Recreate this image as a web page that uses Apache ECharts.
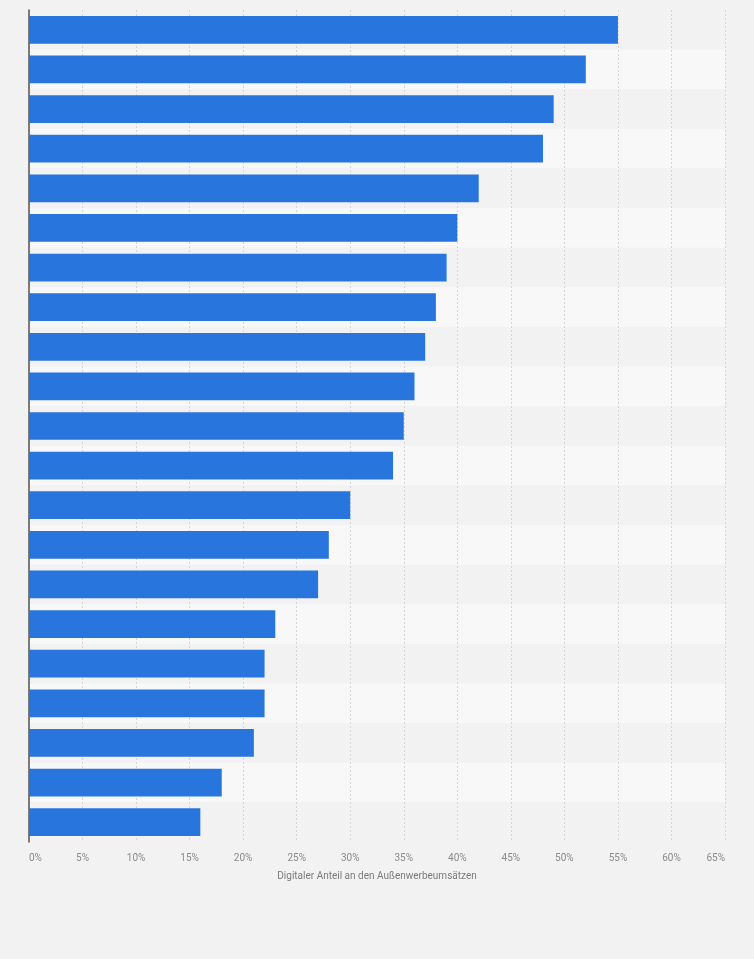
<!DOCTYPE html>
<html>
<head>
<meta charset="utf-8">
<title>Digitaler Anteil an den Außenwerbeumsätzen</title>
<script src="https://cdn.jsdelivr.net/npm/echarts@6/dist/echarts.min.js"></script>
<style>
  html, body { margin: 0; padding: 0; background: #f2f2f2; }
  #chart-container { width: 754px; height: 959px; }
</style>
</head>
<body>
<div id="chart-container"></div>
<script>
var dom = document.getElementById("chart-container");
var myChart = echarts.init(dom, null, { renderer: "canvas" });

// category names are not shown in the picture, so rows are just numbered
const categories = [
  "1", "2", "3", "4", "5", "6", "7", "8", "9", "10", "11",
  "12", "13", "14", "15", "16", "17", "18", "19", "20", "21"
];
const digitalShare = [
  55, 52, 49, 48, 42, 40, 39, 38, 37, 36, 35,
  34, 30, 28, 27, 23, 22, 22, 21, 18, 16
];
const axisTitle = "Digitaler Anteil an den Außenwerbeumsätzen";

var option = {
  backgroundColor: "#f2f2f2",
  animation: false,
  grid: {
    left: 29,
    right: 29,
    top: 10,
    bottom: 117,
  },
  xAxis: {
    type: "value",
    min: 0,
    max: 65,
    interval: 5,
    name: axisTitle,
    nameLocation: "middle",
    nameGap: 29,
    nameTextStyle: {
      color: "#7a7a7a",
      fontSize: 10,
      fontFamily: "Roboto",
    },
    axisLine: { show: false },
    axisTick: { show: false },
    axisLabel: {
      color: "#8a8a8a",
      fontSize: 10,
      fontFamily: "Roboto",
      margin: 11,
      alignMinLabel: "left",
      alignMaxLabel: "right",
      formatter: "{value}%",
    },
    splitLine: {
      show: true,
      lineStyle: {
        color: "#d6d6d6",
        type: [2, 2],
        width: 1,
      },
    },
  },
  yAxis: {
    type: "category",
    data: categories,
    inverse: true,
    axisLine: {
      show: true,
      lineStyle: { color: "#555555", width: 1.5 },
    },
    axisTick: { show: false },
    axisLabel: { show: false },
    splitArea: {
      show: true,
      areaStyle: {
        color: ["#f2f2f2", "#f8f8f8"],
      },
    },
  },
  series: [
    {
      type: "bar",
      data: digitalShare,
      barCategoryGap: "30%",
      itemStyle: {
        color: "#2876dd",
      },
      z: 3,
    },
  ],
};

myChart.setOption(option);
window.addEventListener("resize", myChart.resize);
</script>
</body>
</html>
